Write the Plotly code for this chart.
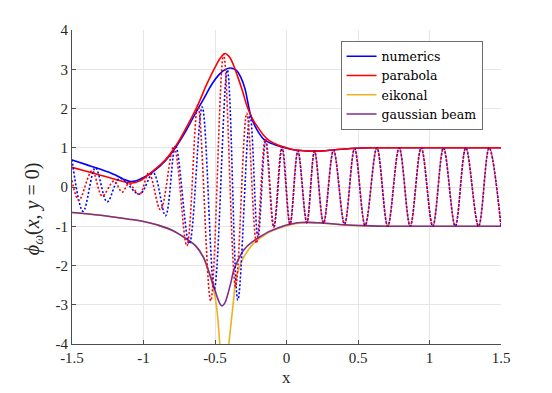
import plotly.graph_objects as go

# ---------------- data ----------------
# |phi| envelope from numerics (blue solid)
num_x = [-1.5, -1.4, -1.3, -1.2, -1.14, -1.09, -1.05, -1.0, -0.93, -0.85, -0.77, -0.7, -0.635,
         -0.58, -0.52, -0.47, -0.43, -0.39, -0.35, -0.32, -0.29, -0.27, -0.25, -0.22, -0.19,
         -0.16, -0.12, -0.06, 0.0, 0.05, 0.1, 0.17, 0.25, 0.34, 0.45, 0.6, 0.8, 1.0, 1.2, 1.5]
num_y = [0.69, 0.57, 0.45, 0.31, 0.2, 0.14, 0.16, 0.24, 0.40, 0.66, 1.04, 1.45, 1.89,
         2.24, 2.63, 2.87, 2.99, 3.03, 2.97, 2.8, 2.5, 2.15, 1.82, 1.55, 1.36,
         1.22, 1.13, 1.05, 0.99, 0.95, 0.93, 0.915, 0.92, 0.95, 0.98, 1.0, 1.0, 1.0, 1.0, 1.0]

# parabola envelope (red solid)
par_x = [-1.5, -1.4, -1.3, -1.2, -1.13, -1.08, -1.03, -0.97, -0.93, -0.85, -0.77, -0.7, -0.62,
         -0.56, -0.5, -0.46, -0.43, -0.405, -0.38, -0.345, -0.31, -0.275, -0.24, -0.2, -0.16,
         -0.12, -0.06, 0.0, 0.05, 0.1, 0.17, 0.25, 0.34, 0.45, 0.6, 0.8, 1.0, 1.2, 1.5]
par_y = [0.50, 0.40, 0.30, 0.20, 0.13, 0.10, 0.15, 0.30, 0.42, 0.68, 1.07, 1.52, 2.09,
         2.6, 3.05, 3.3, 3.40, 3.34, 3.19, 2.85, 2.47, 2.05, 1.75, 1.52, 1.32,
         1.18, 1.07, 1.0, 0.95, 0.93, 0.915, 0.92, 0.95, 0.98, 1.0, 1.0, 1.0, 1.0, 1.0]

# eikonal (two branches around the caustic, None separates them)
eik_x = [-1.5, -1.3, -1.1, -1.0, -0.9, -0.8, -0.7, -0.635, -0.58, -0.555, -0.53, -0.51,
         -0.495, -0.483, -0.474, -0.467, -0.461, None,
         -0.418, -0.41, -0.403, -0.39, -0.38, -0.368, -0.357, -0.335, -0.31, -0.27, -0.229,
         -0.18, -0.135, -0.07, 0.0, 0.05, 0.1, 0.15, 0.22, 0.3, 0.4, 0.55, 0.7, 1.0, 1.5]
eik_y = [-0.65, -0.72, -0.82, -0.88, -0.97, -1.1, -1.32, -1.5, -1.8, -2.03, -2.32, -2.6,
         -2.9, -3.25, -3.65, -4.0, -4.4, None,
         -4.4, -4.2, -3.98, -3.55, -3.21, -2.8, -2.37, -2.1, -1.86, -1.62, -1.43,
         -1.29, -1.18, -1.07, -0.99, -0.94, -0.915, -0.905, -0.915, -0.935, -0.965, -0.99, -1.0, -1.0, -1.0]

# gaussian beam
gb_x = [-1.5, -1.3, -1.1, -1.0, -0.9, -0.8, -0.7, -0.635, -0.58, -0.555, -0.53, -0.508,
        -0.48, -0.465, -0.452, -0.44, -0.428, -0.415, -0.39, -0.368, -0.33, -0.298, -0.24,
        -0.182, -0.12, -0.065, 0.0, 0.05, 0.1, 0.15, 0.22, 0.3, 0.4, 0.55, 0.7, 1.0, 1.5]
gb_y = [-0.65, -0.72, -0.82, -0.88, -0.97, -1.1, -1.32, -1.5, -1.8, -2.03, -2.3, -2.54,
        -2.85, -2.98, -3.03, -3.0, -2.93, -2.79, -2.45, -2.11, -1.8, -1.6, -1.40,
        -1.26, -1.13, -1.05, -0.97, -0.93, -0.905, -0.9, -0.91, -0.93, -0.96, -0.985, -1.0, -1.0, -1.0]

tail_x = [0.142, 0.196, 0.259, 0.329, 0.406, 0.476, 0.550, 0.632, 0.708, 0.788, 0.865,
          0.942, 1.023, 1.098, 1.180, 1.254, 1.343, 1.417, 1.5]
tail_y = [-0.91, 0.915, -0.92, 0.94, -0.95, 0.98, -0.98, 1.0, -1.0, 1.0, -1.0,
          1.0, -1.0, 1.0, -1.0, 1.0, -1.0, 1.0, -1.0]

num_re_x = [-1.5, -1.422, -1.336, -1.254, -1.166, -1.028, -0.932, -0.846, -0.776, -0.68,
            -0.59, -0.505, -0.414, -0.34, -0.255, -0.2, -0.145, -0.088, -0.03, 0.025, 0.08] + tail_x
num_re_y = [0.70, -0.62, 0.49, -0.38, 0.22, -0.18, 0.36, -0.73, 1.05, -1.45,
            2.04, -2.6, 2.98, -2.88, 1.83, -1.28, 1.20, -1.02, 1.02, -0.95, 0.92] + tail_y

par_re_x = [-1.5, -1.452, -1.359, -1.289, -1.207, -1.149, -1.103, -1.028, -0.963, -0.881,
            -0.788, -0.697, -0.62, -0.53, -0.44, -0.356, -0.278, -0.21, -0.149, -0.09,
            -0.033, 0.024, 0.079] + tail_x
par_re_y = [0.17, -0.34, 0.42, -0.23, 0.15, -0.13, 0.085, -0.19, 0.36, -0.58,
            1.03, -1.5, 2.09, -2.90, 3.38, -2.54, 1.88, -1.43, 1.22, -1.03,
            1.02, -0.95, 0.92] + tail_y

x_ticks = [-1.5, -1, -0.5, 0, 0.5, 1, 1.5]
x_ticktext = ["-1.5", "-1", "-0.5", "0", "0.5", "1", "1.5"]
y_ticks = [-4, -3, -2, -1, 0, 1, 2, 3, 4]
y_ticktext = ["-4", "-3", "-2", "-1", "0", "1", "2", "3", "4"]

BLUE = "#0000FF"
RED = "#FF0000"
ORANGE = "#EDB120"
PURPLE = "#7E2F8E"
FONT = "Liberation Serif, Times New Roman, DejaVu Serif, serif"
LEGFONT = "DejaVu Serif, serif"

fig = go.Figure()
fig.add_trace(go.Scatter(x=num_x, y=num_y, mode="lines", name="numerics",
                         line=dict(color=BLUE, width=1.6, shape="spline")))
fig.add_trace(go.Scatter(x=par_x, y=par_y, mode="lines", name="parabola",
                         line=dict(color=RED, width=1.6, shape="spline")))
fig.add_trace(go.Scatter(x=eik_x, y=eik_y, mode="lines", name="eikonal",
                         line=dict(color=ORANGE, width=1.6, shape="spline")))
fig.add_trace(go.Scatter(x=gb_x, y=gb_y, mode="lines", name="gaussian beam",
                         line=dict(color=PURPLE, width=1.6, shape="spline")))
fig.add_trace(go.Scatter(x=num_re_x, y=num_re_y, mode="lines", showlegend=False,
                         line=dict(color=BLUE, width=1.6, shape="spline", dash="2px,2px")))
fig.add_trace(go.Scatter(x=par_re_x, y=par_re_y, mode="lines", showlegend=False,
                         line=dict(color=RED, width=1.6, shape="spline", dash="2px,2px")))

axis_common = dict(showgrid=True, gridcolor="#e6e6e6", gridwidth=1,
                   showline=True, linecolor="#4d4d4d", linewidth=1,
                   ticks="inside", ticklen=4, tickcolor="#4d4d4d",
                   tickfont=dict(family=FONT, size=15, color="#262626"),
                   zeroline=False, mirror=False)

# the page body adds an 8px offset, so the figure is made 8px smaller
fig.update_layout(
    width=544, height=385,
    margin=dict(l=64, r=51, t=22, b=49),
    paper_bgcolor="white", plot_bgcolor="white",
    font=dict(family=FONT, color="#262626"),
    xaxis=dict(range=[-1.5, 1.5], tickvals=x_ticks, ticktext=x_ticktext, **axis_common),
    yaxis=dict(range=[-4, 4], tickvals=y_ticks, ticktext=y_ticktext, **axis_common),
    legend=dict(x=0.626, y=0.966, xanchor="left", yanchor="top",
                bgcolor="white", bordercolor="#6e6e6e", borderwidth=1,
                font=dict(family=LEGFONT, size=12.5, color="#000000"),
                tracegroupgap=0),
    showlegend=True,
    annotations=[
        dict(text="x", xref="paper", yref="paper", x=0.5, y=-0.07,
             xanchor="center", yanchor="top", showarrow=False,
             font=dict(family=FONT, size=17, color="#262626")),
        dict(text="<i>ϕ</i><sub><i>ω</i></sub>(<i>x</i>, <i>y</i> = 0)",
             xref="paper", yref="paper", x=-0.088, y=0.43,
             xanchor="center", yanchor="middle", textangle=-90, showarrow=False,
             font=dict(family=FONT, size=20, color="#262626")),
    ],
)

fig.write_html("out.html")
